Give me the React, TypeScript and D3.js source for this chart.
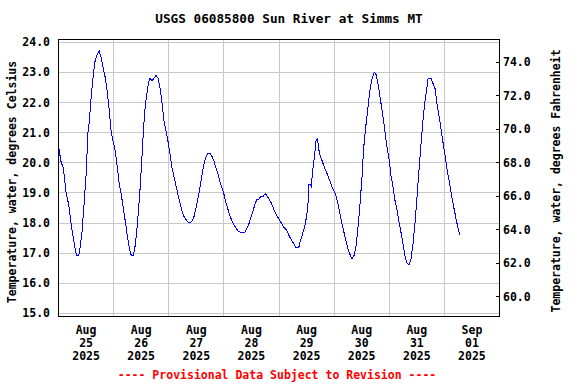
import React from "react";
import * as d3 from "d3";

document.body.style.margin = "0";

// readings per day: [hour of day, water temperature in deg C]
const aug25: [number, number][] = [
  [0, 20.55], [1.1, 20.04], [2.1, 19.82], [3.25, 19.05], [4.45, 18.6], [5.45, 18.0], [6.45, 17.5],
  [7.3, 17.11], [7.9, 16.92], [8.8, 16.92], [9.35, 17.17], [10.25, 17.72], [11.1, 18.6], [12.0, 19.6],
  [12.85, 21.04], [13.4, 21.37], [14.3, 22.25], [15.15, 22.92], [16.0, 23.42], [16.9, 23.6],
  [17.75, 23.71], [18.65, 23.47], [19.5, 23.14], [20.4, 22.81], [21.25, 22.36], [22.15, 21.7],
  [23.0, 20.98], [23.85, 20.7],
];
const aug26: [number, number][] = [
  [0.75, 20.37], [1.6, 19.87], [2.5, 19.27], [3.35, 18.94], [4.2, 18.5], [5.1, 18.05], [6.0, 17.55],
  [6.85, 17.17], [7.7, 16.92], [8.6, 16.92], [9.45, 17.28], [10.3, 17.94], [11.35, 18.94],
  [12.05, 19.82], [12.7, 20.7], [13.25, 21.37], [13.8, 21.92], [14.4, 22.25], [15.3, 22.7],
  [15.85, 22.81], [16.75, 22.72], [17.6, 22.81], [18.45, 22.9], [19.35, 22.81], [20.2, 22.48],
  [21.1, 21.98], [21.95, 21.37], [22.85, 21.04], [23.7, 20.7],
];
const aug27: [number, number][] = [
  [0.6, 20.26], [1.45, 19.82], [2.3, 19.54], [3.2, 19.21], [4.05, 18.94], [4.9, 18.66], [5.8, 18.38],
  [6.65, 18.22], [7.55, 18.11], [8.4, 18.03], [9.3, 18.0], [10.15, 18.07], [11.0, 18.22], [11.9, 18.5],
  [12.75, 18.83], [13.65, 19.21], [14.5, 19.6], [15.4, 19.99], [16.25, 20.21], [17.1, 20.32],
  [18.0, 20.32], [18.85, 20.21], [19.75, 20.04], [20.6, 19.82], [21.5, 19.62], [22.35, 19.35],
  [23.25, 19.16],
];
const aug28: [number, number][] = [
  [0.1, 18.94], [0.95, 18.66], [1.85, 18.44], [2.7, 18.22], [3.6, 18.07], [4.45, 17.94], [5.35, 17.83],
  [6.2, 17.74], [7.05, 17.7], [9.25, 17.7], [10.0, 17.83], [10.85, 17.96], [11.7, 18.18], [12.6, 18.38],
  [13.45, 18.6], [14.35, 18.79], [15.2, 18.79], [16.1, 18.88], [16.95, 18.88], [18.1, 18.98],
  [18.95, 18.88], [19.85, 18.77], [20.7, 18.66], [21.55, 18.5], [22.45, 18.33], [23.3, 18.22],
];
const aug29: [number, number][] = [
  [0.2, 18.11], [1.05, 18.0], [1.9, 17.88], [2.8, 17.81], [3.65, 17.72], [4.55, 17.55], [5.4, 17.44],
  [6.3, 17.33], [7.15, 17.2], [8.65, 17.2], [9.2, 17.39], [10.05, 17.58], [10.95, 17.83], [11.5, 18.0],
  [12.1, 18.27], [12.7, 18.71], [13.0, 19.29], [13.55, 19.29], [14.15, 19.21], [14.45, 19.6],
  [15.0, 19.93], [15.6, 20.32], [16.15, 20.76], [16.75, 20.79], [17.35, 20.43], [17.9, 20.26],
  [18.8, 20.06], [19.65, 19.87], [20.5, 19.73], [21.4, 19.54], [22.25, 19.38], [23.15, 19.18],
];
const aug30: [number, number][] = [
  [0.0, 19.07], [0.9, 18.88], [1.75, 18.6], [2.65, 18.27], [3.5, 17.94], [4.4, 17.66], [5.25, 17.39],
  [6.1, 17.11], [7.0, 16.94], [7.85, 16.81], [8.75, 16.94], [9.6, 17.28], [10.5, 17.94], [11.35, 18.71],
  [12.2, 19.6], [12.8, 20.43], [13.4, 20.93], [13.95, 21.32], [14.85, 21.92], [15.7, 22.48],
  [16.6, 22.81], [17.45, 23.01], [18.35, 22.92], [19.2, 22.59], [20.05, 22.15], [20.95, 21.7],
  [21.8, 21.26], [22.7, 20.7], [23.25, 20.43],
];
const aug31: [number, number][] = [
  [0.1, 20.04], [0.7, 19.6], [1.6, 19.21], [2.45, 18.77], [3.35, 18.44], [4.2, 18.05], [5.05, 17.72],
  [5.95, 17.33], [6.8, 16.94], [7.7, 16.67], [8.55, 16.61], [9.4, 16.78], [10.3, 17.28], [11.15, 17.94],
  [12.05, 18.83], [12.9, 19.71], [13.8, 20.6], [14.65, 21.37], [15.5, 22.03], [16.4, 22.48],
  [16.95, 22.81], [18.15, 22.81], [19.0, 22.64], [19.9, 22.48], [20.75, 21.98], [21.6, 21.59],
  [22.5, 21.15], [23.35, 20.7],
];
const sep01: [number, number][] = [
  [0.25, 20.26], [1.1, 19.82], [2.0, 19.43], [2.85, 19.05], [3.75, 18.66], [4.6, 18.33], [5.45, 18.0],
  [6.35, 17.72], [6.75, 17.61],
];

const dayDates = ["2025-08-25", "2025-08-26", "2025-08-27", "2025-08-28", "2025-08-29", "2025-08-30", "2025-08-31", "2025-09-01"];
const dayReadings = [aug25, aug26, aug27, aug28, aug29, aug30, aug31, sep01];

const celsiusTicks = [15, 16, 17, 18, 19, 20, 21, 22, 23, 24];
const fahrenheitTicks = [60, 62, 64, 66, 68, 70, 72, 74];

const title = "USGS 06085800 Sun River at Simms MT";
const leftLabel = "Temperature, water, degrees Celsius";
const rightLabel = "Temperature, water, degrees Fahrenheit";
const footer = "---- Provisional Data Subject to Revision ----";

const width = 576;
const height = 384;
const left = 58.5;
const right = 499.5;
const top = 39.5;
const bottom = 316.5;

const toF = (c: number) => c * 1.8 + 32;

export default function App() {
  const points = dayReadings.flatMap((rows, i) => {
    const day = new Date(dayDates[i] + "T00:00:00Z").getTime();
    return rows.map(([h, c]) => ({ date: new Date(day + h * 3600e3), c }));
  });

  const start = new Date("2025-08-25T00:00:00Z");
  const end = new Date("2025-09-02T00:00:00Z");
  const x = d3.scaleUtc().domain([start, end]).range([left, right]);
  const yDomain = [14.9, 24.093];
  const y = d3.scaleLinear().domain(yDomain).range([bottom, top]);
  const yF = d3.scaleLinear().domain(yDomain.map(toF)).range([bottom, top]);

  const line = d3
    .line<{ date: Date; c: number }>()
    .x((d) => x(d.date))
    .y((d) => y(d.c));

  const crisp = (v: number) => Math.round(v - 0.5) + 0.5;
  const midnights = d3.utcDay.range(d3.utcDay.offset(start, 1), end);
  const days = d3.utcDay.range(start, end);
  const fmt = d3.format(".1f");

  return (
    <svg
      width={width}
      height={height}
      style={{ display: "block", background: "#fff" }}
      fontFamily="'DejaVu Sans Mono', monospace"
      fontWeight="bold"
      fontSize={11.5}
    >
      <text x={289} y={22.5} textAnchor="middle" fontSize={12.7}>
        {title}
      </text>

      {celsiusTicks.map((t) => (
        <line key={"gy" + t} x1={left} x2={right} y1={crisp(y(t))} y2={crisp(y(t))} stroke="#c8c8c8" />
      ))}
      {midnights.map((d) => (
        <line key={"gx" + d.getTime()} x1={crisp(x(d))} x2={crisp(x(d))} y1={top} y2={bottom} stroke="#c8c8c8" />
      ))}

      <path d={line(points) ?? ""} fill="none" stroke="#0000ff" strokeWidth={1} shapeRendering="crispEdges" />

      {fahrenheitTicks.map((t) => (
        <line key={"tf" + t} x1={right - 3.5} x2={right} y1={crisp(yF(t))} y2={crisp(yF(t))} stroke="#000" />
      ))}

      <rect x={left} y={top} width={right - left} height={bottom - top} fill="none" stroke="#000" />

      {celsiusTicks.map((t) => (
        <text key={"lc" + t} x={50} y={y(t) + 4} textAnchor="end">
          {fmt(t)}
        </text>
      ))}
      {fahrenheitTicks.map((t) => (
        <text key={"lf" + t} x={503} y={yF(t) + 4} textAnchor="start">
          {fmt(t)}
        </text>
      ))}

      {days.map((d) => {
        const cx = x(d3.utcHour.offset(d, 12));
        return (
          <text key={"xd" + d.getTime()} textAnchor="middle">
            <tspan x={cx} y={334}>{d3.utcFormat("%b")(d)}</tspan>
            <tspan x={cx} y={347}>{d3.utcFormat("%d")(d)}</tspan>
            <tspan x={cx} y={360}>{d3.utcFormat("%Y")(d)}</tspan>
          </text>
        );
      })}

      <text transform="translate(16,182) rotate(-90)" textAnchor="middle">
        {leftLabel}
      </text>
      <text transform="translate(560,181) rotate(-90)" textAnchor="middle">
        {rightLabel}
      </text>

      <text x={277} y={379} textAnchor="middle" fill="#ff0000">
        {footer}
      </text>
    </svg>
  );
}
